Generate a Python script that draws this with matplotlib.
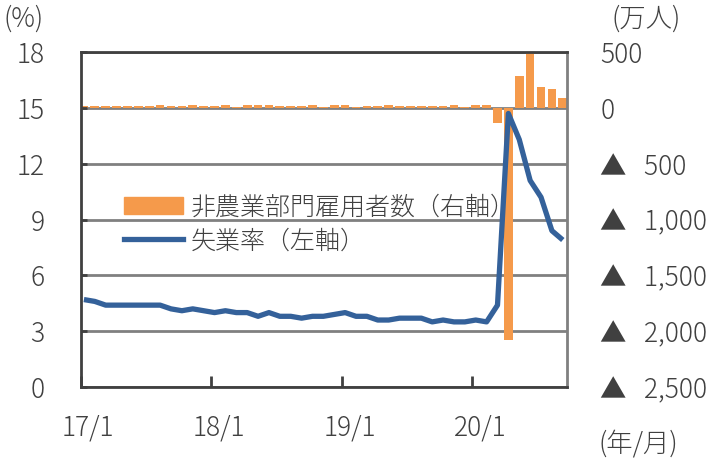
import numpy as np
import matplotlib
matplotlib.use("Agg")
import matplotlib.pyplot as plt
from matplotlib.patches import Patch
from matplotlib.lines import Line2D

plt.rcParams['font.family'] = ['Noto Sans CJK JP', 'DejaVu Sans']
plt.rcParams['font.weight'] = 'light'

# monthly data, 2017/1 - 2020/9
unemp = [4.7, 4.6, 4.4, 4.4, 4.4, 4.4, 4.4, 4.4, 4.2, 4.1, 4.2, 4.1,
         4.0, 4.1, 4.0, 4.0, 3.8, 4.0, 3.8, 3.8, 3.7, 3.8, 3.8, 3.9,
         4.0, 3.8, 3.8, 3.6, 3.6, 3.7, 3.7, 3.7, 3.5, 3.6, 3.5, 3.5,
         3.6, 3.5, 4.4, 14.7, 13.3, 11.1, 10.2, 8.4, 7.9]
payrolls = [20, 18, 17, 18, 17, 18, 19, 28, 18, 17, 27, 17,
            19, 26, 8, 25, 28, 28, 19, 20, 18, 26, 8, 25,
            27, 6, 18, 19, 24, 18, 17, 19, 18, 17, 26, 10,
            26, 27, -135, -2080, 290, 490, 185, 165, 90]
xlabels = ["17/1", "18/1", "19/1", "20/1"]
left_ticks = [0, 3, 6, 9, 12, 15, 18]
right_ticks = [-2500, -2000, -1500, -1000, -500, 0, 500]

DARK = "#404040"
GRID = "#808080"
ORANGE = "#F59A4B"
BLUE = "#34619A"
FS = 19


def right_label(v):
    if v == 0:
        return "0"
    if v > 0:
        return f"{v:,}"
    return f"▲   {-v:,}"


fig = plt.figure(figsize=(7.17, 4.61), dpi=100)
ax = fig.add_axes([0.1125, 0.1605, 0.6785, 0.7265])
ax2 = ax.twinx()

x = np.arange(len(unemp))

# bars on the right axis, line on the left axis drawn on top
ax2.bar(x, payrolls, width=0.8, color=ORANGE, zorder=2)
ax2.set_ylim(-2500, 500)
ax2.set_yticks(right_ticks)
ax2.set_yticklabels([right_label(v) for v in right_ticks])
ax2.grid(axis="y", color=GRID, linewidth=2, zorder=0)
ax2.set_axisbelow(True)
ax2.tick_params(axis="y", length=0, pad=24, labelsize=FS, labelcolor=DARK)

ax.plot(x, unemp, color=BLUE, linewidth=3.8, solid_capstyle="butt", zorder=3)
ax.set_ylim(0, 18)
ax.set_yticks(left_ticks)
ax.tick_params(axis="y", direction="in", length=4, width=2, color=DARK, pad=26,
               labelsize=FS, labelcolor=DARK)
ax.set_zorder(ax2.get_zorder() + 1)
ax.patch.set_visible(False)

ax.set_xlim(-0.3, 44.4)
ax.set_xticks([-0.3 + 12 * k for k in range(4)])
ax.set_xticklabels([])
ax.set_xticks([0.4 + 12 * k for k in range(4)], minor=True)
ax.set_xticklabels(xlabels, minor=True)
ax.tick_params(axis="x", which="major", direction="in", length=8, width=2, color=DARK)
ax.tick_params(axis="x", which="minor", length=0, pad=19, labelsize=FS, labelcolor=DARK)

for name in ["left", "bottom", "top"]:
    ax.spines[name].set_color(DARK)
    ax.spines[name].set_linewidth(2)
ax.spines["right"].set_color(GRID)
ax.spines["right"].set_linewidth(2)
for s in ax2.spines.values():
    s.set_visible(False)

handles = [Patch(color=ORANGE), Line2D([0], [0], color=BLUE, linewidth=3.8)]
ax.legend(handles, ["非農業部門雇用者数（右軸）", "失業率（左軸）"],
          loc="upper left", bbox_to_anchor=(0.156, 0.607), bbox_transform=fig.transFigure,
          frameon=False, fontsize=18, handlelength=2.35, handletextpad=0.3,
          labelspacing=0.3, borderpad=0, labelcolor=DARK)

fig.text(0.005, 0.96, "(%)", fontsize=FS, color=DARK, va="center", ha="left")
fig.text(0.853, 0.96, "(万人)", fontsize=FS, color=DARK, va="center", ha="left")
fig.text(0.835, 0.038, "(年/月)", fontsize=FS, color=DARK, va="center", ha="left")

fig.savefig("out.png", dpi=100)
